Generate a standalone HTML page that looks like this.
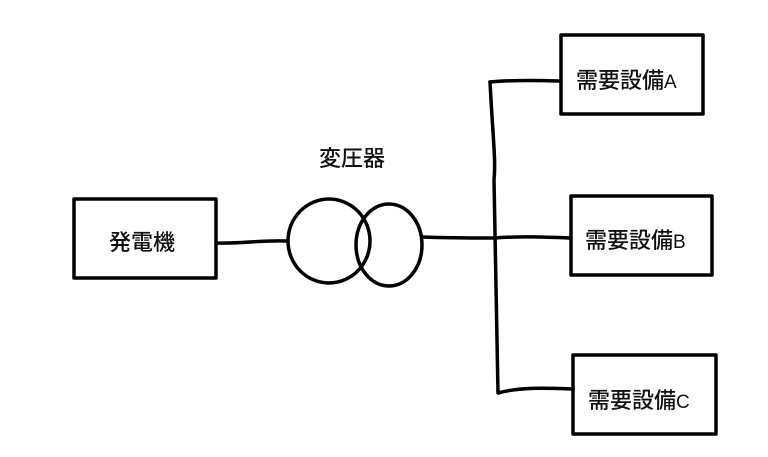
<!DOCTYPE html>
<html><head><meta charset="utf-8"><style>
html,body{margin:0;padding:0;background:#fff}
svg{display:block}
text{font-family:"Noto Sans CJK JP",sans-serif;font-size:22px;font-weight:500;fill:#111}
</style></head><body>
<svg width="768" height="457" viewBox="0 0 768 457" xmlns="http://www.w3.org/2000/svg">
<g fill="none" stroke="#000" stroke-width="3.5" stroke-linecap="round" stroke-linejoin="round">
<rect x="74" y="199" width="142" height="79"/>
<rect x="561" y="35" width="142" height="79"/>
<rect x="571" y="196" width="141" height="79"/>
<rect x="573" y="355" width="143" height="79"/>
<ellipse cx="329" cy="241" rx="41" ry="42"/>
<ellipse cx="389" cy="245" rx="33" ry="41"/>
<path d="M216 243 C240 244 260 240 287 241"/>
<path d="M422 237 C450 238 470 238 494 238"/>
<path d="M490 82 C510 80 530 80 561 81"/>
<path d="M490 82 C493 140 496 160 494 180 C495 250 497 320 498 393 C520 387 545 388 573 389"/>
<path d="M494 238 C520 236 545 237 571 238"/>
</g>
<text x="109" y="250">発電機</text>
<text x="319" y="166">変圧器</text>
<text x="576" y="88">需要設備<tspan font-family="Liberation Sans" font-weight="normal" font-size="19">A</tspan></text>
<text x="585" y="248">需要設備<tspan font-family="Liberation Sans" font-weight="normal" font-size="19">B</tspan></text>
<text x="588" y="408">需要設備<tspan font-family="Liberation Sans" font-weight="normal" font-size="19">C</tspan></text>
</svg>
</body></html>
